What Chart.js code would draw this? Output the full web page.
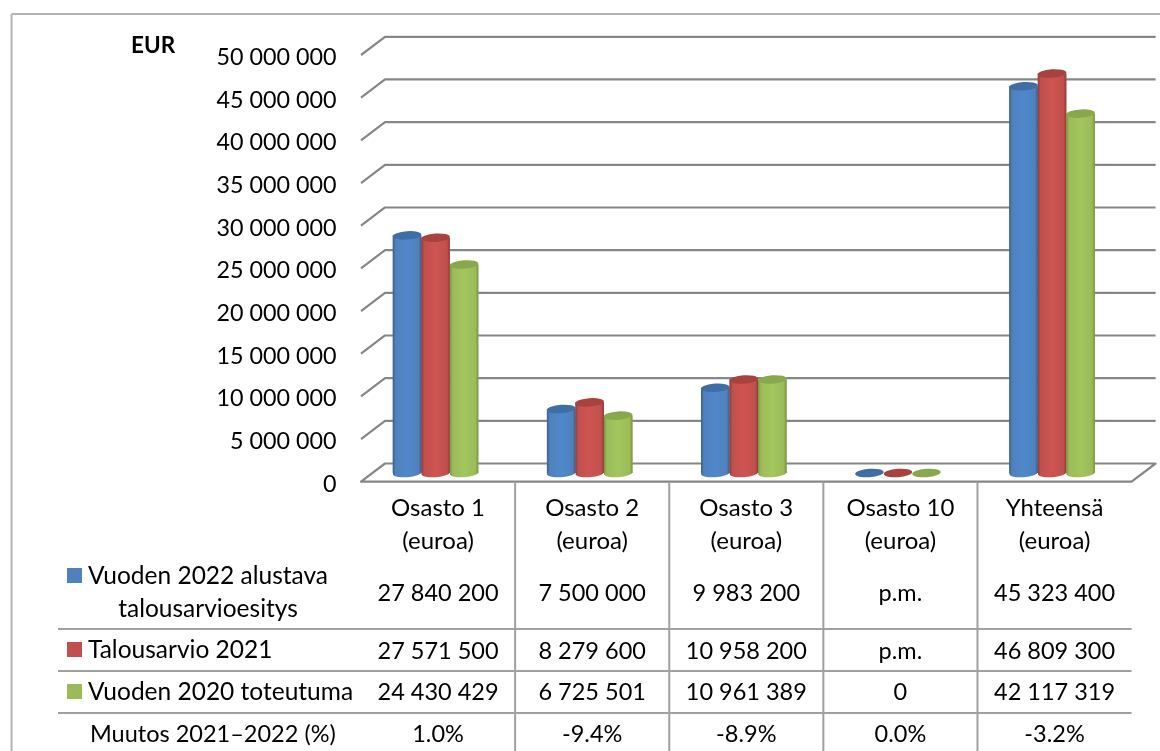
<!DOCTYPE html>
<html lang="fi">
<head>
<meta charset="utf-8">
<title>Osastojen määrärahat</title>
<script src="https://cdn.jsdelivr.net/npm/chart.js@4"></script>
<style>
  html, body { margin: 0; padding: 0; background: #fff; overflow: hidden; }
  canvas { display: block; filter: blur(0.35px); }
</style>
</head>
<body>
<canvas id="chartOsastot" width="1160" height="751"></canvas>
<script>
// Data
const categories = [['Osasto 1', '(euroa)'], ['Osasto 2', '(euroa)'], ['Osasto 3', '(euroa)'], ['Osasto 10', '(euroa)'], ['Yhteensä', '(euroa)']];
const seriesNames = ['Vuoden 2022 alustava talousarvioesitys', 'Talousarvio 2021', 'Vuoden 2020 toteutuma'];
const values2022 = [27840200, 7500000, 9983200, 0, 45323400];
const values2021 = [27571500, 8279600, 10958200, 0, 46809300];
const values2020 = [24430429, 6725501, 10961389, 0, 42117319];
const cells2022 = ['27 840 200', '7 500 000', '9 983 200', 'p.m.', '45 323 400'];
const cells2021 = ['27 571 500', '8 279 600', '10 958 200', 'p.m.', '46 809 300'];
const cells2020 = ['24 430 429', '6 725 501', '10 961 389', '0', '42 117 319'];
const cellsMuutos = ['1.0%', '-9.4%', '-8.9%', '0.0%', '-3.2%'];
const muutosLabel = 'Muutos 2021–2022 (%)';

const colors = ['#4F81BD', '#C0504D', '#9BBB59'];
const shades = [
  { dark: '#39608f', light: '#5088cb', top: '#3f6da6' },
  { dark: '#8f3a38', light: '#cf5451', top: '#a8423f' },
  { dark: '#76953f', light: '#a3c65d', top: '#88a84b' }
];

const FONT = '23.5px Lato';
const FONT_LABEL = '24.5px Lato';
const TEXT_COLOR = '#000';
const LINE_COLOR = '#878787';
const TABLE_LINE = '#a0a0a0';

// Depth of the 3D frame and shift of the bars inside it
const DEPTH_X = 24;
const DEPTH_Y = -18.2;
const BAR_DX = -2.5;
const BAR_DY = -8.7;

function line(ctx, x1, y1, x2, y2, color, width) {
  ctx.strokeStyle = color;
  ctx.lineWidth = width;
  ctx.beginPath();
  ctx.moveTo(x1, y1);
  ctx.lineTo(x2, y2);
  ctx.stroke();
}

function drawFrame(chart) {
  const { ctx, chartArea } = chart;
  const y = chart.scales.y;
  // Outer border of the picture
  line(ctx, 11.5, 14, 1160, 14, '#b4b4b4', 2);
  line(ctx, 11.5, 14, 11.5, 751, '#b4b4b4', 2);

  y.ticks.forEach(t => {
    const py = y.getPixelForValue(t.value);
    ctx.lineJoin = 'round';
    ctx.strokeStyle = LINE_COLOR;
    ctx.lineWidth = 2.2;
    ctx.beginPath();
    ctx.moveTo(chartArea.left, py);
    ctx.lineTo(chartArea.left + DEPTH_X, py + DEPTH_Y);
    ctx.lineTo(chartArea.right + DEPTH_X, py + DEPTH_Y);
    if (t.value === 0) {
      // Floor
      ctx.lineTo(chartArea.right, py);
      ctx.closePath();
    }
    ctx.stroke();
  });
}

function ellipse(ctx, x, y, rx, ry) {
  ctx.beginPath();
  ctx.ellipse(x, y, rx, ry, -4 * Math.PI / 180, 0, Math.PI * 2);
}

function drawCylinders(chart) {
  const { ctx } = chart;
  chart.data.datasets.forEach((ds, i) => {
    const shade = shades[i];
    chart.getDatasetMeta(i).data.forEach(bar => {
      const x = bar.x + BAR_DX;
      const top = bar.y + BAR_DY;
      const base = bar.base + BAR_DY;
      const rx = bar.width / 2;
      const ry = 4.2;
      if (base - top > 0.5) {
        const grad = ctx.createLinearGradient(x - rx, 0, x + rx, 0);
        grad.addColorStop(0, shade.dark);
        grad.addColorStop(0.1, colors[i]);
        grad.addColorStop(0.5, shade.light);
        grad.addColorStop(0.9, colors[i]);
        grad.addColorStop(1, shade.dark);
        ctx.fillStyle = grad;
        ellipse(ctx, x, base, rx, ry);
        ctx.fill();
        ctx.fillRect(x - rx, top, bar.width, base - top);
      }
      ctx.fillStyle = shade.top;
      ellipse(ctx, x, top, rx, ry);
      ctx.fill();
    });
  });
}

function drawTable(chart) {
  const { ctx, chartArea } = chart;
  const x = chart.scales.x;
  const bottom = 751;
  const colWidth = x.getPixelForTick(1) - x.getPixelForTick(0);

  // Column dividers
  for (let i = 0; i < categories.length - 1; i++) {
    const px = x.getPixelForTick(i) + colWidth / 2;
    line(ctx, px, chartArea.bottom, px, bottom, TABLE_LINE, 2);
  }
  // Row dividers
  [629, 671, 713].forEach(py => line(ctx, 58, py, chartArea.right, py, TABLE_LINE, 2));

  ctx.font = FONT;
  ctx.fillStyle = TEXT_COLOR;
  ctx.textBaseline = 'middle';

  // Values
  ctx.textAlign = 'center';
  [[cells2022, 593], [cells2021, 651], [cells2020, 692], [cellsMuutos, 734]].forEach(([cells, py]) => {
    cells.forEach((txt, i) => ctx.fillText(txt, x.getPixelForTick(i), py));
  });

  // Row headers with the legend keys
  ctx.textAlign = 'left';
  ctx.fillText(muutosLabel, 90, 734);
  ctx.font = FONT_LABEL;
  ctx.textAlign = 'center';
  ctx.fillText('Vuoden 2022 alustava', 208, 576);
  ctx.fillText('talousarvioesitys', 208, 609);
  ctx.textAlign = 'left';
  ctx.fillText(seriesNames[1], 88, 650);
  ctx.fillText(seriesNames[2], 88, 692);

  [575.5, 649.5, 691.5].forEach((py, i) => {
    ctx.fillStyle = colors[i];
    ctx.fillRect(67, py - 7.5, 15, 15);
  });

  // Unit label
  ctx.fillStyle = '#000';
  ctx.font = 'bold 22.5px Lato';
  ctx.textAlign = 'left';
  ctx.fillText('EUR', 131, 46);
}

const frame3d = {
  id: 'frame3d',
  beforeDatasetsDraw(chart) {
    drawFrame(chart);
    chart.ctx.save();
    chart.ctx.translate(BAR_DX, BAR_DY);
  },
  afterDatasetsDraw(chart) {
    chart.ctx.restore();
    drawCylinders(chart);
  },
  afterDraw(chart) {
    drawTable(chart);
  }
};

new Chart(document.getElementById('chartOsastot').getContext('2d'), {
  type: 'bar',
  data: {
    labels: categories,
    datasets: [
      { label: seriesNames[0], data: values2022, backgroundColor: colors[0] },
      { label: seriesNames[1], data: values2021, backgroundColor: colors[1] },
      { label: seriesNames[2], data: values2020, backgroundColor: colors[2] }
    ]
  },
  options: {
    responsive: false,
    animation: false,
    layout: { autoPadding: false, padding: { top: 55, right: 28.4, left: 0, bottom: 0 } },
    datasets: { bar: { barPercentage: 1, categoryPercentage: 0.555 } },
    plugins: { legend: { display: false }, title: { display: false }, tooltip: { enabled: false } },
    scales: {
      x: {
        afterFit(scale) { scale.height = 269.3; },
        border: { display: false },
        grid: { display: false, drawTicks: false },
        ticks: {
          color: TEXT_COLOR, padding: 10, maxRotation: 0, autoSkip: false,
          font: { family: 'Lato', size: 24, lineHeight: '33px' }
        }
      },
      y: {
        min: 0,
        max: 50000000,
        afterFit(scale) { scale.width = 361; },
        border: { display: false },
        grid: { display: false, drawTicks: false },
        ticks: {
          stepSize: 5000000,
          color: TEXT_COLOR,
          padding: 24.5,
          labelOffset: 2.5,
          font: { family: 'Lato', size: 23.3 },
          callback: v => String(v).replace(/\B(?=(\d{3})+$)/g, ' ')
        }
      }
    }
  },
  plugins: [frame3d]
});
</script>
</body>
</html>
